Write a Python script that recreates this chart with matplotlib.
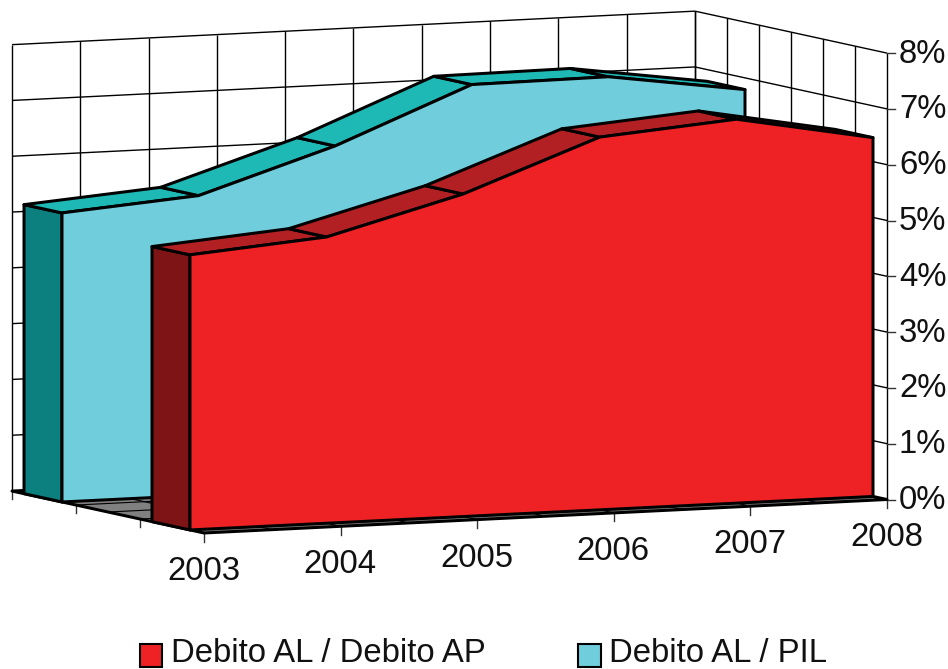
import numpy as np
import matplotlib
matplotlib.use("Agg")
import matplotlib.pyplot as plt
from matplotlib.patches import Polygon, Patch, Rectangle
from matplotlib.legend_handler import HandlerPatch

plt.rcParams['font.family'] = ['Liberation Sans', 'DejaVu Sans']

years = ['2003', '2004', '2005', '2006', '2007', '2008']
debito_ap = [4.93, 5.13, 5.78, 6.68, 6.88, 6.43]
debito_pil = [5.18, 5.37, 6.14, 7.12, 7.14, 6.79]
y_ticks = [0, 1, 2, 3, 4, 5, 6, 7, 8]
y_labels = ['0%', '1%', '2%', '3%', '4%', '5%', '6%', '7%', '8%']
legend_labels = ['Debito AL / Debito AP', 'Debito AL / PIL']

fig = plt.figure(figsize=(9.48, 6.69), dpi=100)
ax = fig.add_axes([0, 0, 1, 1])
ax.set_xlim(0, 948)
ax.set_ylim(669, 0)
ax.axis('off')

DEPTH = 192
FS = 23.7


def pr(i, v, d):
    """Oblique chart projection: category, value, depth to picture position."""
    i, v, d = np.asarray(i, float), np.asarray(v, float), np.asarray(d, float)
    return 204 + 136.6 * i - d, 533 - 6.7 * i - 55.8 * v - 0.2185 * d


def seg(p0, p1, color='black', lw=1.0, z=1):
    x0, y0 = pr(*p0)
    x1, y1 = pr(*p1)
    ax.plot([x0, x1], [y0, y1], color=color, lw=lw, solid_capstyle='butt', zorder=z)


def poly(points, fc, z):
    ax.add_patch(Polygon([tuple(map(float, pr(*p))) for p in points], closed=True, fc=fc,
                         ec='black', lw=2.15, joinstyle='round', zorder=z))


# walls
for v in y_ticks:
    seg((0, v, DEPTH), (5, v, DEPTH), lw=1.0)
    seg((5, v, DEPTH), (5, v, 0), lw=1.0)
for k in range(11):
    i = k / 2
    seg((i, 0, DEPTH), (i, 8, DEPTH), lw=1.0)
for k in range(7):
    d = DEPTH * k / 6
    seg((5, 0, d), (5, 8, d), lw=1.0)

# floor
poly([(0, 0, 0), (5, 0, 0), (5, 0, DEPTH), (0, 0, DEPTH)], '#808080', 2)
for k in range(11):
    seg((k / 2, 0, 0), (k / 2, 0, DEPTH), lw=0.8, z=2.1)
for k in range(7):
    seg((0, 0, DEPTH * k / 6), (5, 0, DEPTH * k / 6), lw=0.8, z=2.1)

# axis ticks
for i in range(6):
    x, y = pr(i, 0, 0)
    ax.plot([x, x], [y, y + 8.5], color='#333333', lw=1.0, zorder=1)
    ax.text(x - 0.5, y + 38.5, years[i], ha='center', va='center', fontsize=FS, color='#111111')
for d in (DEPTH / 3, 2 * DEPTH / 3, DEPTH):
    x, y = pr(0, 0, d)
    ax.plot([x, x], [y, y + 8], color='#333333', lw=1.0, zorder=1)
for v, lab in zip(y_ticks, y_labels):
    x, y = pr(5, v, 0)
    ax.plot([x, x + 8], [y, y], color='#333333', lw=1.0, zorder=1)
    ax.text(x + 12, y + 1, lab, ha='left', va='center', fontsize=FS, color='#111111')


def area(values, d_front, d_back, c_front, c_top, c_side, z):
    n = len(values)
    poly([(0, 0, d_front), (0, values[0], d_front), (0, values[0], d_back), (0, 0, d_back)], c_side, z)
    for i in range(n - 1):
        poly([(i, values[i], d_front), (i + 1, values[i + 1], d_front),
              (i + 1, values[i + 1], d_back), (i, values[i], d_back)], c_top, z)
    pts = [(i, values[i], d_front) for i in range(n)] + [(n - 1, 0, d_front), (0, 0, d_front)]
    poly(pts, c_front, z + 0.1)


area(debito_pil, 142, 180, '#6FCDDC', '#1EB8B5', '#0C7F7F', 3)
area(debito_ap, 14, 52, '#EE2224', '#B32024', '#7F1416', 4)


def lowered_square(legend, orig_handle, xdescent, ydescent, width, height, fontsize):
    return Rectangle((-xdescent, -ydescent - 3.6), width, height)


handles = [Patch(fc='#EE2224', ec='black', lw=1.5), Patch(fc='#6FCDDC', ec='black', lw=1.5)]
ax.legend(handles, legend_labels, ncol=2, loc='lower left', bbox_to_anchor=(140, 668.8),
          bbox_transform=ax.transData, frameon=False, fontsize=FS, handlelength=0.68,
          handleheight=0.68, handletextpad=0.27, columnspacing=2.8, borderpad=0,
          borderaxespad=0, labelcolor='#111111',
          handler_map={Patch: HandlerPatch(patch_func=lowered_square)})

fig.savefig('out.png', dpi=100)
